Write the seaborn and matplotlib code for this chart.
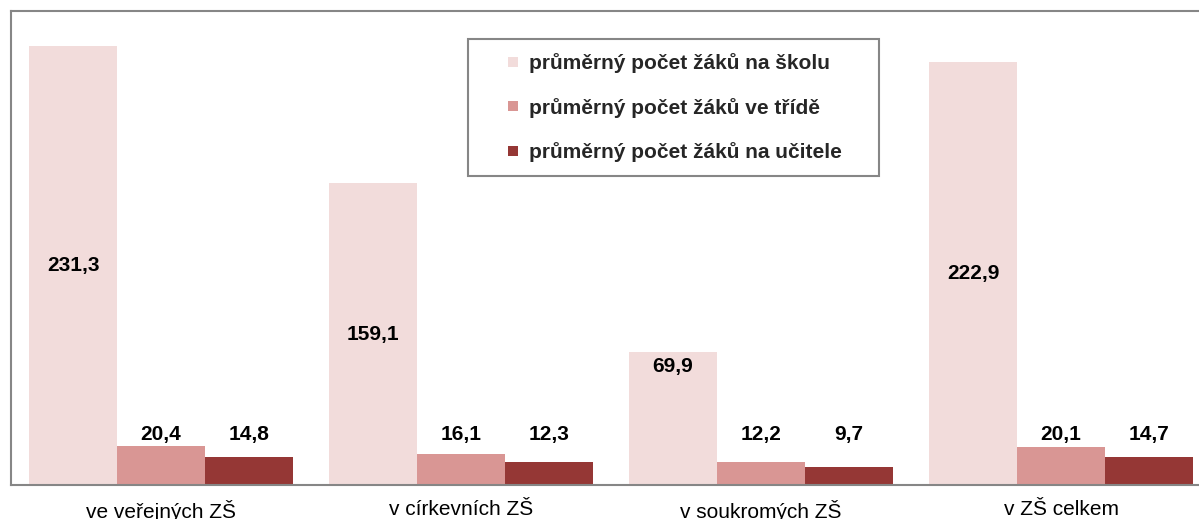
import numpy as np
import pandas as pd
import matplotlib
matplotlib.use("Agg")
import matplotlib.pyplot as plt
from matplotlib.lines import Line2D
import seaborn as sns

# ---- data ----
categories = ["ve veřejných ZŠ", "v církevních ZŠ", "v soukromých ZŠ", "v ZŠ celkem"]
series_names = ["průměrný počet žáků na školu",
                "průměrný počet žáků ve třídě",
                "průměrný počet žáků na učitele"]
per_school = [231.3, 159.1, 69.9, 222.9]
per_class = [20.4, 16.1, 12.2, 20.1]
per_teacher = [14.8, 12.3, 9.7, 14.7]
colors = ["#F2DCDB", "#D99694", "#953735"]

df = pd.DataFrame({
    "cat": categories * 3,
    "series": [series_names[0]] * 4 + [series_names[1]] * 4 + [series_names[2]] * 4,
    "value": per_school + per_class + per_teacher,
})

sns.set_style("white")
plt.rcParams["font.family"] = ["Liberation Sans", "DejaVu Sans"]

W, H = 1199, 519
fig = plt.figure(figsize=(W / 100, H / 100), dpi=100)
ax_left, ax_right, ax_top, ax_bottom = 11, 1211, 11, 485
ax = fig.add_axes([ax_left / W, 1 - ax_bottom / H, (ax_right - ax_left) / W, (ax_bottom - ax_top) / H])

sns.barplot(data=df, x="cat", y="value", hue="series", order=categories,
            hue_order=series_names, palette=colors, width=0.88, saturation=1,
            linewidth=0, legend=False, ax=ax)

ax.set_xlim(-0.5, 3.5)
ax.set_ylim(0, 250)
ax.set_yticks([])
ax.set_xlabel("")
ax.set_ylabel("")

gray = "#868686"
for s in ["top", "left", "bottom"]:
    ax.spines[s].set_visible(True)
    ax.spines[s].set_color(gray)
    ax.spines[s].set_linewidth(1.5)
ax.spines["right"].set_visible(False)

ax.set_xticks(range(len(categories)))
ax.set_xticklabels(categories, fontsize=15, color="black")
ax.set_xticks(np.arange(-0.5, len(categories), 1.0), minor=True)
ax.tick_params(axis="x", which="major", length=0, pad=11)
ax.tick_params(axis="x", which="minor", length=4, width=1.2, color=gray, direction="out")

# ---- data labels ----
def fmt(v):
    return f"{v:.1f}".replace(".", ",")

containers = ax.containers
for si, cont in enumerate(containers):
    for bar in cont:
        v = bar.get_height()
        xc = bar.get_x() + bar.get_width() / 2
        if si == 0:
            y = v / 2 if v / 2 > 50 else v - 7.6
        else:
            y = 26.5
        ax.text(xc, y, fmt(v), ha="center", va="center", fontsize=15,
                fontweight="bold", color="black")

# ---- legend ----
handles = [Line2D([0], [0], linestyle="none", marker="s", markersize=7.9,
                  markerfacecolor=c, markeredgewidth=0) for c in colors]
leg = fig.legend(handles, series_names, loc="upper left",
                 bbox_to_anchor=(468 / W, 1 - 174 / H, 411 / W, 135 / H),
                 bbox_transform=fig.transFigure, mode="expand", borderaxespad=0,
                 prop={"size": 15, "weight": "bold"}, frameon=True, fancybox=False,
                 edgecolor=gray, framealpha=1, borderpad=0.68, labelspacing=1.17,
                 handlelength=2.92, handletextpad=-0.66)
leg.get_frame().set_linewidth(1.5)

fig.savefig("out.png", dpi=100, facecolor="white")
